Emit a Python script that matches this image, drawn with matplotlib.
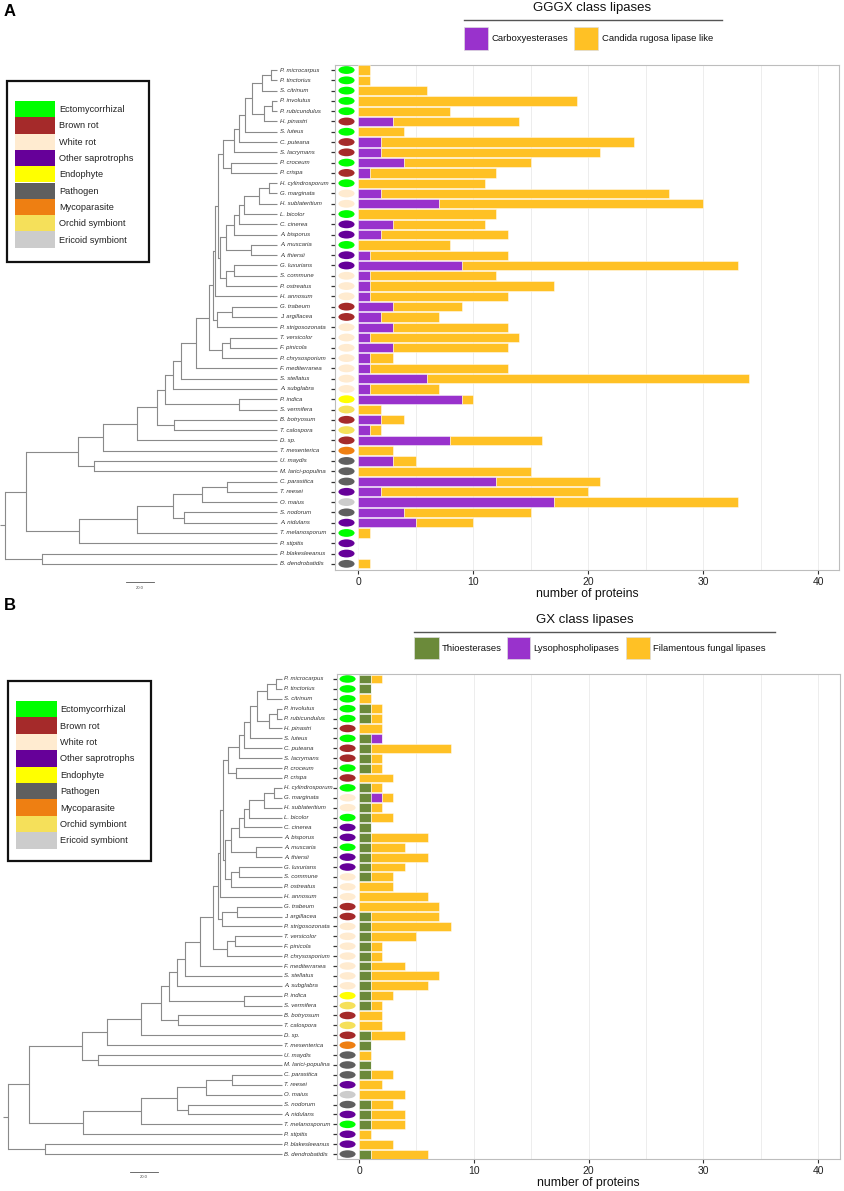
import matplotlib
matplotlib.use('Agg')
import matplotlib.pyplot as plt
from matplotlib.patches import Rectangle, Ellipse
from matplotlib.lines import Line2D

plt.rcParams['font.family'] = ['Liberation Sans', 'DejaVu Sans']

# ---------------- data ----------------
SPECIES = ["P. microcarpus", "P. tinctorius", "S. citrinum", "P. involutus", "P. rubicundulus",
           "H. pinastri", "S. luteus", "C. puteana", "S. lacrymans", "P. croceum", "P. crispa",
           "H. cylindrosporum", "G. marginata", "H. sublateritium", "L. bicolor", "C. cinerea",
           "A. bisporus", "A. muscaria", "A. thiersii", "G. luxurians", "S. commune", "P. ostreatus",
           "H. annosum", "G. trabeum", "J. argillacea", "P. strigosozonata", "T. versicolor",
           "F. pinicola", "P. chrysosporium", "F. mediterranea", "S. stellatus", "A. subglabra",
           "P. indica", "S. vermifera", "B. botryosum", "T. calospora", "D. sp.", "T. mesenterica",
           "U. maydis", "M. larici-populina", "C. parasitica", "T. reesei", "O. maius", "S. nodorum",
           "A. nidulans", "T. melanosporum", "P. stipitis", "P. blakesleeanus", "B. dendrobatidis"]

TROPHIC = ["Ecto", "Ecto", "Ecto", "Ecto", "Ecto", "Brown", "Ecto", "Brown", "Brown", "Ecto", "Brown",
           "Ecto", "White", "White", "Ecto", "Other", "Other", "Ecto", "Other", "Other", "White", "White",
           "White", "Brown", "Brown", "White", "White", "White", "White", "White", "White", "White",
           "Endo", "Orchid", "Brown", "Orchid", "Brown", "Myco", "Path", "Path", "Path", "Other",
           "Ericoid", "Path", "Other", "Ecto", "Other", "Other", "Path"]

TROPHIC_KEYS = ["Ecto", "Brown", "White", "Other", "Endo", "Path", "Myco", "Orchid", "Ericoid"]
TROPHIC_LABELS = ["Ectomycorrhizal", "Brown rot", "White rot", "Other saprotrophs", "Endophyte",
                  "Pathogen", "Mycoparasite", "Orchid symbiont", "Ericoid symbiont"]
TROPHIC_COLORS = ["#00FF00", "#A52A2A", "#FFEBD0", "#660099", "#FFFF00",
                  "#5F5F5F", "#EE7F12", "#F5E05A", "#CCCCCC"]

# Panel A: GGGX class
CARBOXY = [0, 0, 0, 0, 0, 3, 0, 2, 2, 4, 1, 0, 2, 7, 0, 3, 2, 0, 1, 9, 1, 1, 1, 3, 2, 3, 1, 3, 1, 1,
           6, 1, 9, 0, 2, 1, 8, 0, 3, 0, 12, 2, 17, 4, 5, 0, 0, 0, 0]
CANDIDA = [1, 1, 6, 19, 8, 11, 4, 22, 19, 11, 11, 11, 25, 23, 12, 8, 11, 8, 12, 24, 11, 16, 12, 6, 5,
           10, 13, 10, 2, 12, 28, 6, 1, 2, 2, 1, 8, 3, 2, 15, 9, 18, 16, 11, 5, 1, 0, 0, 1]

# Panel B: GX class
THIO = [1, 1, 0, 1, 1, 0, 1, 1, 1, 1, 0, 1, 1, 1, 1, 1, 1, 1, 1, 1, 1, 0, 0, 0, 1, 1, 1, 1, 1, 1,
        1, 1, 1, 1, 0, 0, 1, 1, 0, 1, 1, 0, 0, 1, 1, 1, 0, 0, 1]
LYSO = [0, 0, 0, 0, 0, 0, 1, 0, 0, 0, 0, 0, 1, 0, 0, 0, 0, 0, 0, 0, 0, 0, 0, 0, 0, 0, 0, 0, 0, 0,
        0, 0, 0, 0, 0, 0, 0, 0, 0, 0, 0, 0, 0, 0, 0, 0, 0, 0, 0]
FILAM = [1, 0, 1, 1, 1, 2, 0, 7, 1, 1, 3, 1, 1, 1, 2, 0, 5, 3, 5, 3, 2, 3, 6, 7, 6, 7, 4, 1, 1, 3,
         6, 5, 2, 1, 2, 2, 3, 0, 1, 0, 2, 2, 4, 2, 3, 3, 1, 3, 5]

# Phylogeny (Newick, internal labels = node depth from root)
TREE = ("(" * 21 +
        "P. microcarpus,P. tinctorius)266,S. citrinum)257,"
        "((P. involutus,P. rubicundulus)267,H. pinastri)259)247,S. luteus)240,C. puteana)234,"
        "S. lacrymans)229,(P. croceum,P. crispa)226)218," +
        "(" * 7 +
        "H. cylindrosporum,G. marginata)264,H. sublateritium)254,L. bicolor)239,C. cinerea)234,"
        "A. bisporus)229,(A. muscaria,A. thiersii)246)221,((G. luxurians,S. commune)229,P. ostreatus)221)215)213,"
        "H. annosum)210,((G. trabeum,J. argillacea)227,P. strigosozonata)212)208,"
        "((T. versicolor,F. pinicola)225,P. chrysosporium)217)204,F. mediterranea)191,S. stellatus)176,"
        "A. subglabra)168,(P. indica,S. vermifera)234)160,(B. botryosum,T. calospora)169)152,D. sp.)132,"
        "T. mesenterica)98,(U. maydis,M. larici-populina)89)73," +
        "(" * 5 +
        "C. parasitica,T. reesei)222,O. maius)197,(S. nodorum,A. nidulans)179)168,T. melanosporum)132,"
        "P. stipitis)74)21,(P. blakesleeanus,B. dendrobatidis)37)0")
TIP_DEPTH = 272
SCALE_LEN = 28
SCALE_TEXT = "20.0"

# ---------------- helpers ----------------
W, H = 844, 1191
fig = plt.figure(figsize=(W / 100, H / 100), dpi=100)


def fx(x):
    return x / W


def fy(y):
    return 1 - y / H


def axes_px(l, t, r, b):
    return fig.add_axes([l / W, 1 - b / H, (r - l) / W, (b - t) / H])


def parse(s, i=0):
    if s[i] == '(':
        i += 1
        kids = []
        while True:
            c, i = parse(s, i)
            kids.append(c)
            if s[i] == ',':
                i += 1
                continue
            if s[i] == ')':
                i += 1
                break
        j = i
        while i < len(s) and s[i] not in ',)':
            i += 1
        return (float(s[j:i]), kids), i
    j = i
    while s[i] not in ',)':
        i += 1
    return s[j:i], i


tree, _end = parse(TREE)
assert _end == len(TREE), (_end, len(TREE))
ROW = {n: k for k, n in enumerate(SPECIES)}


def draw_tree(ax, node, parent_depth, col='#8a8a8a', lw=0.8):
    if isinstance(node, str):
        y = ROW[node]
        ax.plot([parent_depth, TIP_DEPTH], [y, y], color=col, lw=lw, solid_capstyle='butt')
        return y
    d, kids = node
    ys = [draw_tree(ax, k, d, col, lw) for k in kids]
    ax.plot([d, d], [min(ys), max(ys)], color=col, lw=lw)
    y = (min(ys) + max(ys)) / 2
    ax.plot([parent_depth, d], [y, y], color=col, lw=lw, solid_capstyle='butt')
    return y


tcol = dict(zip(TROPHIC_KEYS, TROPHIC_COLORS))


def panel(bar_box, xlim, ylim, tree_xlim, label_x, scale_y, series, colors):
    ax = axes_px(*bar_box)
    n = len(SPECIES)
    ys = list(range(n))
    left = [0] * n
    for vals, c in zip(series, colors):
        ax.barh(ys, vals, left=left, height=0.9, color=c, edgecolor=(1, 1, 1, 0.55),
                linewidth=0.6, zorder=3)
        left = [a + b for a, b in zip(left, vals)]
    for k, t in enumerate(TROPHIC):
        ax.add_patch(Ellipse((-1.0, k), 1.4, 0.76, facecolor=tcol[t], edgecolor='none', zorder=3))
    ax.set_xlim(*xlim)
    ax.set_ylim(*ylim)
    ax.set_xticks([0, 10, 20, 30, 40])
    ax.set_xticks([5, 15, 25, 35], minor=True)
    ax.grid(axis='x', which='both', color='#EDEDED', lw=0.7, zorder=0)
    ax.tick_params(axis='x', which='minor', length=0)
    ax.tick_params(axis='x', which='major', length=3, width=0.8, color='#333333',
                   labelsize=7.5, labelcolor='#222222', pad=2)
    ax.set_yticks(ys)
    ax.set_yticklabels([])
    ax.tick_params(axis='y', length=3, width=0.9, color='#333333')
    for sp in ax.spines.values():
        sp.set_color('#BDBDBD')
        sp.set_linewidth(0.8)
    ax.set_xlabel('number of proteins', fontsize=8.8, labelpad=1, color='#111111')

    tx = axes_px(0, bar_box[1], bar_box[0], bar_box[3])
    tx.set_xlim(*tree_xlim)
    tx.set_ylim(*ylim)
    tx.axis('off')
    draw_tree(tx, tree, -5)
    for k, s in enumerate(SPECIES):
        tx.text(label_x, k, s, fontsize=4.3, style='italic', va='center', ha='left',
                color='#333333', family=['Liberation Sans Narrow', 'Liberation Sans', 'DejaVu Sans'])
    tx.plot([121, 121 + SCALE_LEN], [scale_y, scale_y], color='#555555', lw=0.6, clip_on=False)
    tx.text(121 + SCALE_LEN / 2, scale_y + 0.55, SCALE_TEXT, fontsize=3, ha='center', va='center',
            color='#444444', clip_on=False)
    return ax


def trophic_legend(box, px0, px1, top, step, text_x):
    l, t, r, b = box
    fig.patches.append(Rectangle((fx(l), fy(b)), (r - l) / W, (b - t) / H, transform=fig.transFigure,
                                 fill=False, edgecolor='#111111', linewidth=1.6))
    for k, (lab, c) in enumerate(zip(TROPHIC_LABELS, TROPHIC_COLORS)):
        y0 = top + k * step
        fig.patches.append(Rectangle((fx(px0), fy(y0 + step)), (px1 - px0) / W, step / H,
                                     transform=fig.transFigure, facecolor=c, edgecolor='none'))
        fig.text(fx(text_x), fy(y0 + step / 2 + 0.5), lab, fontsize=6.6, va='center', ha='left',
                 color='#222222')


def top_legend(title, cx, ty, line, patch_t, patch_b, entries):
    fig.text(fx(cx), fy(ty), title, fontsize=9.5, ha='center', va='center', color='#111111')
    fig.add_artist(Line2D([fx(line[0]), fx(line[1])], [fy(line[2]), fy(line[2])],
                          transform=fig.transFigure, color='#555555', lw=1.0))
    for (x0, x1, tx_, lab, c) in entries:
        fig.patches.append(Rectangle((fx(x0), fy(patch_b)), (x1 - x0) / W, (patch_b - patch_t) / H,
                                     transform=fig.transFigure, facecolor=c, edgecolor='#DDDDDD',
                                     linewidth=0.5))
        fig.text(fx(tx_), fy((patch_t + patch_b) / 2), lab, fontsize=6.8, ha='left', va='center',
                 color='#111111')


PURPLE = '#9932CC'
YELLOW = '#FFC125'
GREEN = '#6B8A3A'

# ---------------- Panel A ----------------
fig.text(fx(4), fy(12), 'A', fontsize=12, fontweight='bold', va='center', ha='left')
panel((335, 65, 839, 570), (-2.0, 41.8), (48.6, -0.49), (-5, 330), 275, 49.8,
      [CARBOXY, CANDIDA], [PURPLE, YELLOW])
trophic_legend((7, 81, 149, 262), 15, 55, 101, 16.3, 59)
top_legend('GGGX class lipases', 592, 8, (464, 722, 20), 27, 50,
           [(464, 488, 492, 'Carboxyesterases', PURPLE),
            (574, 598, 602, 'Candida rugosa lipase like', YELLOW)])

# ---------------- Panel B ----------------
fig.text(fx(4), fy(605), 'B', fontsize=12, fontweight='bold', va='center', ha='left')
panel((337, 674, 840, 1159), (-1.92, 41.9), (48.5, -0.505), (-7.94, 326.6), 274, 49.8,
      [THIO, LYSO, FILAM], [GREEN, PURPLE, YELLOW])
trophic_legend((8, 681, 151, 861), 16, 57, 701, 16.4, 60)
top_legend('GX class lipases', 585, 620, (414, 775, 632), 637, 659,
           [(414, 439, 442, 'Thioesterases', GREEN),
            (507, 530, 533, 'Lysophospholipases', PURPLE),
            (626, 650, 653, 'Filamentous fungal lipases', YELLOW)])

fig.savefig('out.png', dpi=100, facecolor='white')
